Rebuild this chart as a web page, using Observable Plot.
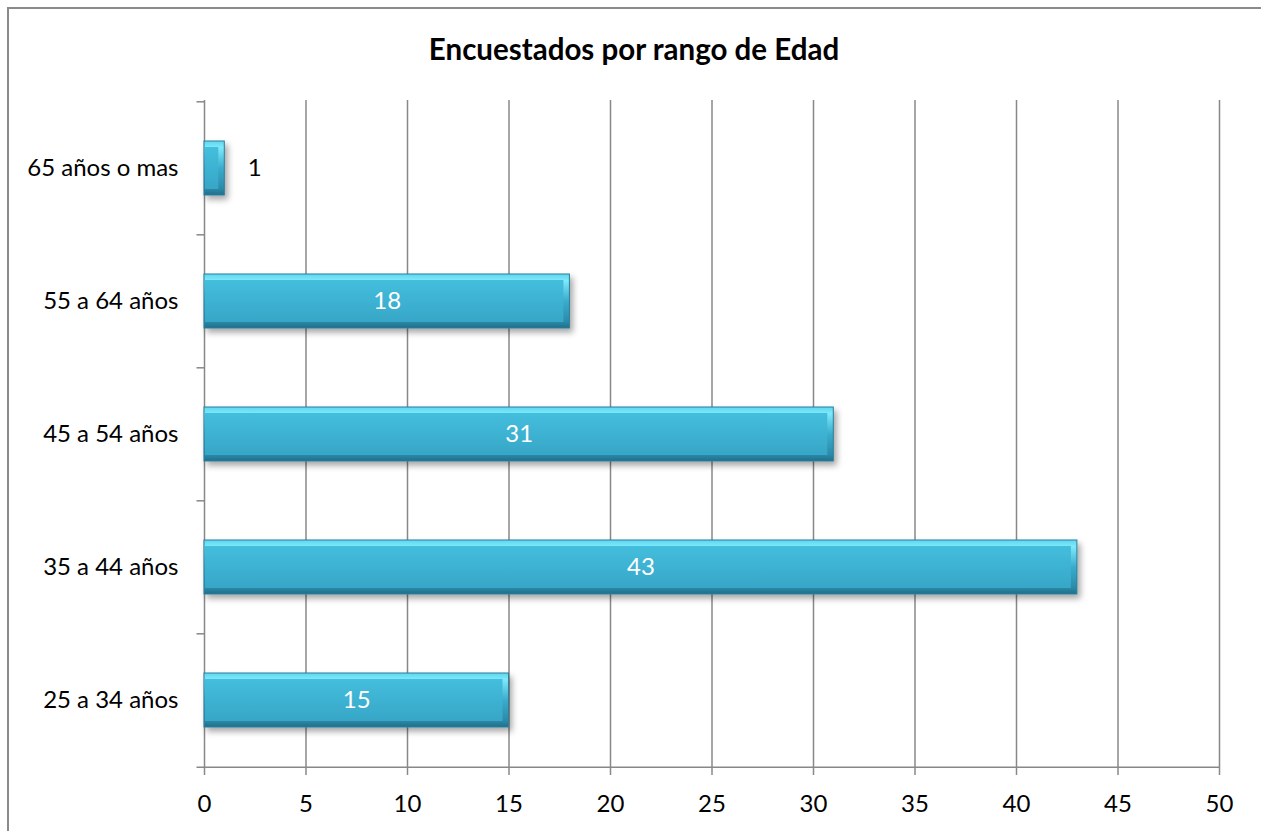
<!DOCTYPE html>
<html>
<head>
<meta charset="utf-8">
<script src="https://cdn.jsdelivr.net/npm/d3@7"></script>
<script src="https://cdn.jsdelivr.net/npm/@observablehq/plot@0.6"></script>
<style>
  html, body { margin: 0; padding: 0; background: #fff; overflow: hidden; }
  #chart { position: relative; width: 1261px; height: 831px; overflow: hidden; font-family: Lato, "Open Sans", sans-serif; }
  #frame { position: absolute; left: 7px; top: 7px; width: 1400px; height: 1000px; border-left: 2px solid #8a8a8a; border-top: 2px solid #8a8a8a; }
  #title { position: absolute; left: 7px; width: 1254px; top: 30px; text-align: center; font-size: 29.5px; font-weight: bold; color: #000; line-height: 38px; }
  #plot { position: absolute; left: 0; top: 80px; }
</style>
</head>
<body>
<div id="chart">
  <div id="frame"></div>
  <div id="title">Encuestados por rango de Edad</div>
  <div id="plot"></div>
</div>
<script>
// Respondents per age range
const categories = ["65 años o mas", "55 a 64 años", "45 a 54 años", "35 a 44 años", "25 a 34 años"];
const counts = [1, 18, 31, 43, 15];
const xTicks = [0, 5, 10, 15, 20, 25, 30, 35, 40, 45, 50];

const data = categories.map((c, i) => ({category: c, count: counts[i]}));

const W = 1261, H = 751;
const mTop = 20, mBottom = 64, mLeft = 204, mRight = 42;
const step = (H - mTop - mBottom) / categories.length;
const gridColor = "#888888";
const fs = 24;

const chart = Plot.plot({
  width: W,
  height: H,
  marginTop: mTop,
  marginBottom: mBottom,
  marginLeft: mLeft,
  marginRight: mRight,
  style: {fontFamily: "Lato, 'Open Sans', sans-serif", fontSize: fs + "px", color: "#000", background: "transparent"},
  x: {domain: [0, 50], ticks: xTicks},
  y: {domain: categories, paddingInner: 0.595, paddingOuter: 0.2975},
  marks: [
    // vertical gridlines
    Plot.ruleX(xTicks.filter(d => d > 0), {stroke: gridColor, strokeWidth: 1.5}),
    // category axis line and band-boundary ticks
    Plot.ruleX([0], {stroke: gridColor, strokeWidth: 1.5}),
    Plot.ruleY(categories, {y: d => d, x1: -0.37, x2: 0, dy: -step / 2, stroke: gridColor, strokeWidth: 1.5}),
    Plot.ruleY([categories[categories.length - 1]], {y: d => d, x1: -0.37, x2: 50, dy: step / 2, stroke: gridColor, strokeWidth: 1.5}),
    // bars: outer bevel layer and inner face
    Plot.barX(data, {x: "count", y: "category", fill: "url(#bevelGrad)", stroke: "#2a7f9b", strokeWidth: 1}),
    Plot.barX(data, {x: "count", y: "category", fill: "url(#faceGrad)", insetLeft: 1, insetRight: 6, insetTop: 6, insetBottom: 6}),
    // value labels
    Plot.text(data.filter(d => d.count >= 5), {x: d => d.count / 2, y: "category", text: d => String(d.count), fill: "#fff", fontSize: fs}),
    Plot.text(data.filter(d => d.count < 5), {x: "count", y: "category", text: d => String(d.count), fill: "#000", fontSize: fs, textAnchor: "start", dx: 23}),
    // axes
    Plot.axisX({ticks: xTicks, tickSize: 8, tickPadding: 19, stroke: gridColor, strokeWidth: 1.5, label: null, fontSize: fs}),
    Plot.axisY({tickSize: 0, tickPadding: 26, label: null, fontSize: fs})
  ]
});

// gradients and shadow for the bevelled bars
const svg = d3.select(chart);
const defs = svg.insert("defs", ":first-child");
const bevel = defs.append("linearGradient").attr("id", "bevelGrad").attr("x1", 0).attr("y1", 0).attr("x2", 0).attr("y2", 1);
bevel.append("stop").attr("offset", 0).attr("stop-color", "#5fd6ee");
bevel.append("stop").attr("offset", 0.12).attr("stop-color", "#7ee9fb");
bevel.append("stop").attr("offset", 0.5).attr("stop-color", "#3aaccc");
bevel.append("stop").attr("offset", 0.88).attr("stop-color", "#2b8ba9");
bevel.append("stop").attr("offset", 1).attr("stop-color", "#1f6f8a");
const face = defs.append("linearGradient").attr("id", "faceGrad").attr("x1", 0).attr("y1", 0).attr("x2", 0).attr("y2", 1);
face.append("stop").attr("offset", 0).attr("stop-color", "#44bedd");
face.append("stop").attr("offset", 1).attr("stop-color", "#37a6c7");
const shadow = defs.append("filter").attr("id", "barShadow").attr("x", "-10%").attr("y", "-20%").attr("width", "130%").attr("height", "160%");
shadow.append("feDropShadow").attr("dx", 3).attr("dy", 4).attr("stdDeviation", 3).attr("flood-color", "#000").attr("flood-opacity", 0.35);
svg.selectAll("g[aria-label=bar]").filter((d, i) => i === 0).attr("filter", "url(#barShadow)");

document.getElementById("plot").appendChild(chart);
</script>
</body>
</html>
